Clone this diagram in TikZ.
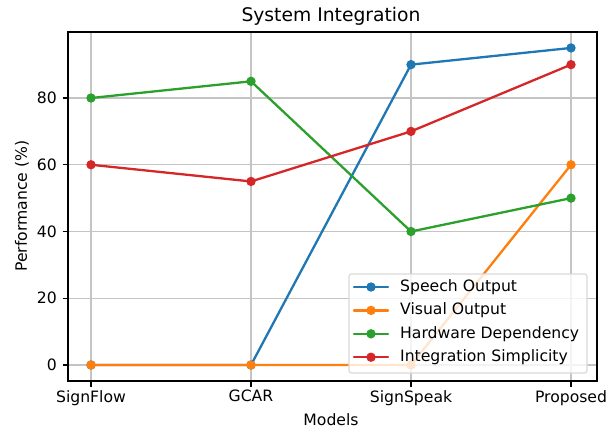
\documentclass[tikz,border=0pt]{standalone}
\usepackage{fontspec}
\setmainfont{DejaVu Sans}
\usepackage{tikz}
\usetikzlibrary{positioning}
\definecolor{TabBlue}{HTML}{1F77B4}
\definecolor{TabOrange}{HTML}{FF7F0E}
\definecolor{TabGreen}{HTML}{2CA02C}
\definecolor{TabRed}{HTML}{D62728}
\definecolor{GridGray}{HTML}{C4C4C4}
\definecolor{LegEdge}{HTML}{D9D9D9}

\begin{document}
\begin{tikzpicture}[
  x=1bp, y=-1bp,
  txt/.style={font=\fontsize{15.7}{18}\selectfont, inner sep=0pt},
  gridline/.style={draw=GridGray, line width=1.1bp},
  spine/.style={draw=black, line width=1.2bp},
  series/.style={draw=#1, line width=2.3bp, line join=round, line cap=round},
  dot/.style={fill=#1}
]
\useasboundingbox (0,0) rectangle (610,429);

% grid
\foreach \gx in {91,251,411,571}
  \draw[gridline] (\gx,32) -- (\gx,381);
\foreach \gy in {0,20,40,60,80}
  \draw[gridline] (68,{365-3.3375*\gy}) -- (597,{365-3.3375*\gy});

% ticks and tick labels
\foreach \gx/\lab in {91/SignFlow,251/GCAR,411/SignSpeak,571/Proposed}{
  \draw[spine] (\gx,381) -- (\gx,386.5);
  \node[txt, anchor=north] at (\gx,390) {\lab};
}
\foreach \gy in {0,20,40,60,80}{
  \draw[spine] (62.5,{365-3.3375*\gy}) -- (68,{365-3.3375*\gy});
  \node[txt, anchor=east] at (57,{365-3.3375*\gy}) {\gy};
}

% data
\begin{scope}[xshift=91bp, yshift=-365bp, x=160bp, y=3.3375bp]
  \coordinate (sp0) at (0,0);  \coordinate (sp1) at (1,0);
  \coordinate (sp2) at (2,90); \coordinate (sp3) at (3,95);
  \coordinate (vo0) at (0,0);  \coordinate (vo1) at (1,0);
  \coordinate (vo2) at (2,0);  \coordinate (vo3) at (3,60);
  \coordinate (hw0) at (0,80); \coordinate (hw1) at (1,85);
  \coordinate (hw2) at (2,40); \coordinate (hw3) at (3,50);
  \coordinate (is0) at (0,60); \coordinate (is1) at (1,55);
  \coordinate (is2) at (2,70); \coordinate (is3) at (3,90);
\end{scope}

\draw[series=TabBlue] (sp0) -- (sp1) -- (sp2) -- (sp3);
\foreach \p in {sp0,sp1,sp2,sp3} \fill[dot=TabBlue] (\p) circle (4.7bp);
\draw[series=TabOrange] (vo0) -- (vo1) -- (vo2) -- (vo3);
\foreach \p in {vo0,vo1,vo2,vo3} \fill[dot=TabOrange] (\p) circle (4.7bp);
\draw[series=TabGreen] (hw0) -- (hw1) -- (hw2) -- (hw3);
\foreach \p in {hw0,hw1,hw2,hw3} \fill[dot=TabGreen] (\p) circle (4.7bp);
\draw[series=TabRed] (is0) -- (is1) -- (is2) -- (is3);
\foreach \p in {is0,is1,is2,is3} \fill[dot=TabRed] (\p) circle (4.7bp);

% axes frame
\draw[spine] (68,32) rectangle (597,381);

% legend
\draw[LegEdge, fill=white, fill opacity=0.8, line width=1.1bp, rounded corners=2.5bp] (349,274) rectangle (587,373);
\foreach \col/\lab [count=\k from 0] in {TabBlue/Speech Output,TabOrange/Visual Output,TabGreen/Hardware Dependency,TabRed/Integration Simplicity}{
  \draw[series=\col] (354,{287+23.4*\k}) -- (388,{287+23.4*\k});
  \fill[dot=\col] (371,{287+23.4*\k}) circle (4.7bp);
  \node[txt, anchor=west] at (400,{287+23.4*\k}) {\lab};
}

% labels
\node[txt, font=\fontsize{18.8}{22}\selectfont] (title) at (331,16) {System Integration};
\node[txt] (xlab) at (331,420) {Models};
\node[txt, rotate=90] (ylab) at (22,206) {Performance (\%)};
\end{tikzpicture}
\end{document}
